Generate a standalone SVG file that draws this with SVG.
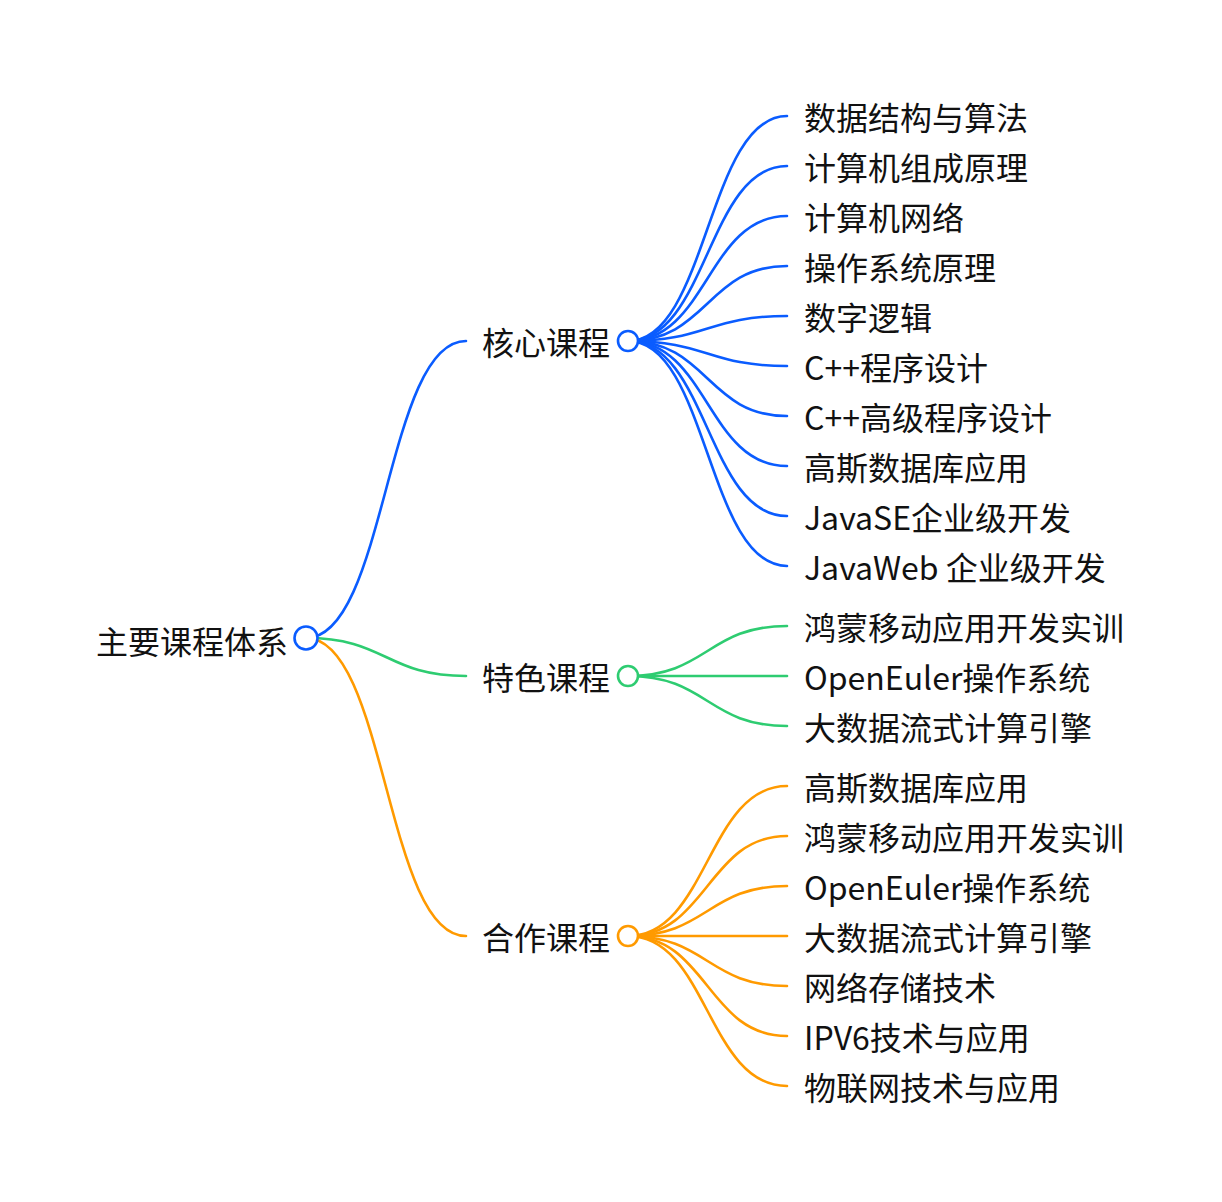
<svg xmlns="http://www.w3.org/2000/svg" width="1222" height="1202" viewBox="0 0 1222 1202">
<style>
.bg{fill:#ffffff}
.lk{fill:none;stroke-width:2.6;stroke-linecap:round}
.b{stroke:#0a5cff}
.g{stroke:#2ecc71}
.o{stroke:#ff9a00}
.c{fill:#ffffff;stroke-width:2.6}
.t{font-family:"Noto Sans CJK SC","Noto Sans",sans-serif;font-size:32px;fill:#111111}
</style>
<rect class="bg" x="0" y="0" width="1222" height="1202"/>
<g id="connectors">
<path class="lk b" d="M306,638C386,638 386,341 466,341"/>
<path class="lk g" d="M306,638C386,638 386,676 466,676"/>
<path class="lk o" d="M306,638C386,638 386,936 466,936"/>
<path class="lk b" d="M628,341C707.5,341 707.5,116 787,116"/>
<path class="lk b" d="M628,341C707.5,341 707.5,166 787,166"/>
<path class="lk b" d="M628,341C707.5,341 707.5,216 787,216"/>
<path class="lk b" d="M628,341C707.5,341 707.5,266 787,266"/>
<path class="lk b" d="M628,341C707.5,341 707.5,316 787,316"/>
<path class="lk b" d="M628,341C707.5,341 707.5,366 787,366"/>
<path class="lk b" d="M628,341C707.5,341 707.5,416 787,416"/>
<path class="lk b" d="M628,341C707.5,341 707.5,466 787,466"/>
<path class="lk b" d="M628,341C707.5,341 707.5,516 787,516"/>
<path class="lk b" d="M628,341C707.5,341 707.5,566 787,566"/>
<path class="lk g" d="M628,676C707.5,676 707.5,626 787,626"/>
<path class="lk g" d="M628,676C707.5,676 707.5,676 787,676"/>
<path class="lk g" d="M628,676C707.5,676 707.5,726 787,726"/>
<path class="lk o" d="M628,936C707.5,936 707.5,786 787,786"/>
<path class="lk o" d="M628,936C707.5,936 707.5,836 787,836"/>
<path class="lk o" d="M628,936C707.5,936 707.5,886 787,886"/>
<path class="lk o" d="M628,936C707.5,936 707.5,936 787,936"/>
<path class="lk o" d="M628,936C707.5,936 707.5,986 787,986"/>
<path class="lk o" d="M628,936C707.5,936 707.5,1036 787,1036"/>
<path class="lk o" d="M628,936C707.5,936 707.5,1086 787,1086"/>
</g>
<g id="root">
<text class="t" x="96" y="654">主要课程体系</text>
<circle class="c b" cx="306" cy="638" r="11.5" stroke-width="3"/>
</g>
<g id="core">
<text class="t" x="482" y="355">核心课程</text>
<circle class="c b" cx="628" cy="341" r="10"/>
</g>
<g id="feature">
<text class="t" x="482" y="690">特色课程</text>
<circle class="c g" cx="628" cy="676" r="10"/>
</g>
<g id="coop">
<text class="t" x="482" y="950">合作课程</text>
<circle class="c o" cx="628" cy="936" r="10"/>
</g>
<g id="core-children">
<text id="c1" class="t" x="804" y="130">数据结构与算法</text>
<text id="c2" class="t" x="804" y="180">计算机组成原理</text>
<text id="c3" class="t" x="804" y="230">计算机网络</text>
<text id="c4" class="t" x="804" y="280">操作系统原理</text>
<text id="c5" class="t" x="804" y="330">数字逻辑</text>
<text id="c6" class="t" x="804" y="380">C++程序设计</text>
<text id="c7" class="t" x="804" y="430">C++高级程序设计</text>
<text id="c8" class="t" x="804" y="480">高斯数据库应用</text>
<text id="c9" class="t" x="804" y="530">JavaSE企业级开发</text>
<text id="c10" class="t" x="804" y="580">JavaWeb 企业级开发</text>
</g>
<g id="feature-children">
<text id="f1" class="t" x="804" y="640">鸿蒙移动应用开发实训</text>
<text id="f2" class="t" x="804" y="690">OpenEuler操作系统</text>
<text id="f3" class="t" x="804" y="740">大数据流式计算引擎</text>
</g>
<g id="coop-children">
<text id="p1" class="t" x="804" y="800">高斯数据库应用</text>
<text id="p2" class="t" x="804" y="850">鸿蒙移动应用开发实训</text>
<text id="p3" class="t" x="804" y="900">OpenEuler操作系统</text>
<text id="p4" class="t" x="804" y="950">大数据流式计算引擎</text>
<text id="p5" class="t" x="804" y="1000">网络存储技术</text>
<text id="p6" class="t" x="804" y="1050">IPV6技术与应用</text>
<text id="p7" class="t" x="804" y="1100">物联网技术与应用</text>
</g>
</svg>
